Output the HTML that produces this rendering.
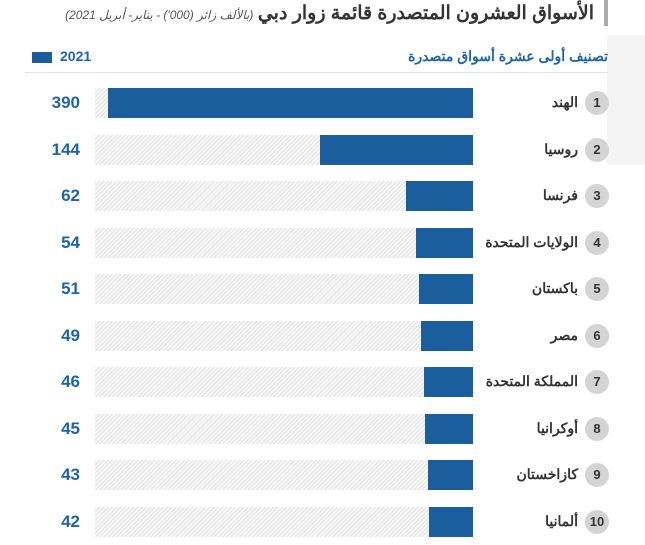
<!DOCTYPE html>
<html><head><meta charset="utf-8"><style>
body{margin:0;width:645px;height:545px;background:#fff;position:relative;overflow:hidden;font-family:"Liberation Sans","Noto Sans CJK SC",sans-serif}
.a{position:absolute}
.hat{background:repeating-linear-gradient(135deg,#e4e4e4 0 1px,#f7f7f7 1px 3px)}
.bar{background:#1b5e9e}
.v{color:#1e64ad;font-weight:bold;font-size:17px;text-align:right;width:60px;left:20px}
.lab{font-size:14px;font-weight:bold;color:#333;right:67px;direction:rtl;white-space:nowrap}
.c{width:24px;height:24px;border-radius:50%;background:#d4d4d4;left:585px;text-align:center;line-height:24px;font-size:13px;font-weight:bold;color:#333}
</style></head><body>
<div class="a" style="left:607px;top:35px;width:38px;height:130px;background:#f4f4f4"></div>
<div class="a" style="left:604px;top:0;width:4px;height:26px;background:#aaa"></div>
<div class="a" style="right:51px;top:2px;direction:rtl;white-space:nowrap"><span style="font-size:19px;font-weight:bold;color:#333">الأسواق العشرون المتصدرة قائمة زوار دبي</span> <span style="font-size:12px;font-style:italic;color:#555">(بالألف زائر (000') - يناير- أبريل 2021)</span></div>
<div class="a bar" style="left:32px;top:52px;width:20px;height:11px"></div>
<div class="a" style="left:60px;top:48px;font-size:14px;font-weight:bold;color:#1e64ad">2021</div>
<div class="a" style="right:37px;top:48px;font-size:14px;font-weight:bold;color:#1e64ad;direction:rtl">تصنيف أولى عشرة أسواق متصدرة</div>
<div class="a" style="left:25px;top:72px;width:583px;height:1px;background:#e2e2e2"></div>
<div id="rows"></div>
<script>
var d=[["الهند",390,108],["روسيا",144,320],["فرنسا",62,406],["الولايات المتحدة",54,416],["باكستان",51,419],["مصر",49,421],["المملكة المتحدة",46,424],["أوكرانيا",45,425],["كازاخستان",43,428],["ألمانيا",42,429]];
var h="";d.forEach(function(r,i){var c=103+i*46.5;
h+='<div class="a hat" style="left:95px;top:'+(c-15)+'px;width:378px;height:30px"></div>';
h+='<div class="a bar" style="left:'+r[2]+'px;top:'+(c-15)+'px;width:'+(473-r[2])+'px;height:30px"></div>';
h+='<div class="a v" style="top:'+(c-10)+'px">'+r[1]+'</div>';
h+='<div class="a lab" style="top:'+(c-9)+'px">'+r[0]+'</div>';
h+='<div class="a c" style="top:'+(c-12)+'px">'+(i+1)+'</div>';});
document.getElementById("rows").innerHTML=h;
</script>
</body></html>
